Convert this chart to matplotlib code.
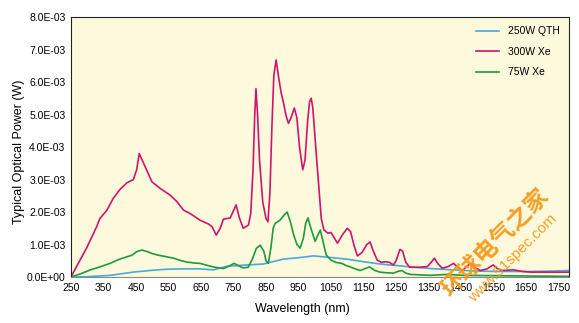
import numpy as np
import matplotlib.pyplot as plt
from matplotlib.ticker import FuncFormatter

# Values (power in units of 1E-03 W)
qth_wl = [250, 300, 370, 441, 492, 545, 600, 647, 688, 729, 790, 842, 903, 955, 995,
          1050, 1099, 1150, 1201, 1255, 1305, 1356, 1407, 1460, 1510, 1560, 1611, 1660, 1715, 1782]
qth_pw = [0.0, 0.01, 0.05, 0.15, 0.2, 0.24, 0.25, 0.25, 0.22, 0.33, 0.37, 0.4, 0.55, 0.6, 0.65,
          0.6, 0.55, 0.47, 0.4, 0.35, 0.3, 0.26, 0.23, 0.2, 0.18, 0.17, 0.17, 0.17, 0.18, 0.2]

xe300_wl = [250, 267, 298, 329, 339, 360, 380, 401, 422, 442, 452, 460, 478, 499, 524, 555,
            576, 596, 617, 647, 673, 684, 697, 709, 719, 740, 758, 768, 780, 796, 803,
            810, 815, 819, 824, 830, 840, 850, 856, 862, 868, 874, 881, 888, 896, 905, 912,
            919, 927, 937, 945, 953, 963, 970, 978, 984, 989, 994, 1000, 1006, 1013, 1020,
            1028, 1040, 1050, 1060, 1070, 1085, 1100, 1110, 1120, 1131, 1145, 1160, 1170, 1180,
            1192, 1205, 1217, 1230, 1242, 1250, 1262, 1270, 1280, 1292, 1320, 1346, 1358, 1368,
            1378, 1392, 1410, 1427, 1440, 1454, 1465, 1479, 1495, 1509, 1530, 1549, 1560, 1575,
            1611, 1640, 1664, 1715, 1782]
xe300_pw = [0.0, 0.32, 0.89, 1.55, 1.8, 2.05, 2.42, 2.7, 2.9, 3.0, 3.3, 3.8, 3.4, 2.93, 2.73, 2.52,
            2.32, 2.06, 1.95, 1.75, 1.63, 1.55, 1.29, 1.5, 1.78, 1.82, 2.22, 1.82, 1.5, 1.6, 1.95,
            3.3, 4.9, 5.8, 5.0, 3.6, 2.3, 1.8, 1.7, 2.6, 4.6, 6.2, 6.68, 6.2, 5.7, 5.3, 4.95,
            4.73, 4.9, 5.2, 4.9, 4.0, 3.3, 3.6, 4.8, 5.4, 5.5, 5.2, 4.4, 3.6, 2.7, 1.8,
            1.45, 1.35, 1.37, 1.2, 1.04, 1.3, 1.5, 1.4, 1.0, 0.65, 0.75, 1.0, 1.08, 0.8,
            0.52, 0.45, 0.47, 0.45, 0.37, 0.5, 0.85, 0.8, 0.45, 0.3, 0.3, 0.32, 0.45, 0.58,
            0.42, 0.27, 0.32, 0.42, 0.3, 0.2, 0.3, 0.42, 0.28, 0.2, 0.25, 0.37, 0.27, 0.2,
            0.22, 0.17, 0.15, 0.15, 0.15]

xe75_wl = [250, 280, 310, 339, 370, 400, 422, 437, 452, 468, 485, 500, 515, 540, 565, 590,
           607, 630, 647, 668, 688, 705, 719, 735, 752, 765, 780, 795, 808, 820, 832, 843,
           850, 857, 865, 872, 878, 893, 905, 915, 925, 935, 945, 955, 965, 972, 979, 988,
           1001, 1010, 1017, 1025, 1035, 1050, 1065, 1083, 1095, 1109, 1125, 1140, 1155, 1168,
           1185, 1201, 1220, 1242, 1258, 1268, 1280, 1294, 1356, 1407, 1460, 1560, 1660, 1782]
xe75_pw = [0.0, 0.1, 0.22, 0.31, 0.42, 0.55, 0.62, 0.67, 0.78, 0.83, 0.78, 0.72, 0.68, 0.63, 0.58, 0.5,
           0.46, 0.43, 0.42, 0.36, 0.31, 0.28, 0.26, 0.33, 0.42, 0.35, 0.28, 0.3, 0.55, 0.88, 0.98, 0.8,
           0.5, 0.42, 0.9, 1.5, 1.65, 1.75, 1.9, 2.0, 1.7, 1.3, 1.0, 0.89, 1.2, 1.65, 1.82, 1.5,
           1.1, 1.3, 1.45, 1.1, 0.68, 0.52, 0.45, 0.42, 0.36, 0.31, 0.25, 0.2, 0.26, 0.31,
           0.2, 0.15, 0.13, 0.12, 0.18, 0.2, 0.12, 0.08, 0.05, 0.08, 0.05, 0.04, 0.03, 0.02]

series = [
    ('250W QTH', qth_wl, qth_pw, '#4aa8dc'),
    ('300W Xe', xe300_wl, xe300_pw, '#d0146e'),
    ('75W Xe', xe75_wl, xe75_pw, '#1f9a3c'),
]

x_ticks = list(range(250, 1751, 100))
y_ticks = [i * 1e-3 for i in range(9)]

plt.rcParams['font.family'] = ['Liberation Sans', 'DejaVu Sans']

fig = plt.figure(figsize=(5.79, 3.23), dpi=100)
ax = fig.add_axes([0.1226, 0.1424, 0.8601, 0.8046])
ax.set_facecolor('#fdf9dc')

for name, wl, pw, color in series:
    ax.plot(wl, np.array(pw) * 1e-3, color=color, lw=1.2, label=name,
            solid_joinstyle='round')

ax.set_xlim(250, 1782)
ax.set_ylim(0, 8e-3)
ax.set_xticks(x_ticks)
ax.set_yticks(y_ticks)
ax.yaxis.set_major_formatter(FuncFormatter(
    lambda v, p: '0.0E+00' if v == 0 else '{:.1f}E-03'.format(v * 1e3)))
ax.tick_params(length=0, labelsize=7.5, pad=4)

for s in ax.spines.values():
    s.set_color('#222222')
    s.set_linewidth(0.8)
ax.spines['bottom'].set_color('#888888')

ax.set_xlabel('Wavelength (nm)', fontsize=9)
ax.xaxis.set_label_coords(0.464, -0.1, transform=ax.transAxes)
ax.set_ylabel('Typical Optical Power (W)', fontsize=9)
ax.yaxis.set_label_coords(-0.092, 0.48, transform=ax.transAxes)

ax.legend(loc='upper right', frameon=False, fontsize=7.5, handlelength=2.2,
          labelspacing=1.0, bbox_to_anchor=(1.0, 1.0))

# watermark
fig.text(0.855, 0.25, '环球电气之家', rotation=45, color='#f59a1c', fontsize=17,
         fontweight='bold', family=['Noto Sans CJK SC'], ha='center', va='center', alpha=0.95)
fig.text(0.885, 0.2, 'www.51spec.com', rotation=45, color='#f59a1c', fontsize=11,
         ha='center', va='center', alpha=0.95)

fig.savefig('out.png', dpi=100)
